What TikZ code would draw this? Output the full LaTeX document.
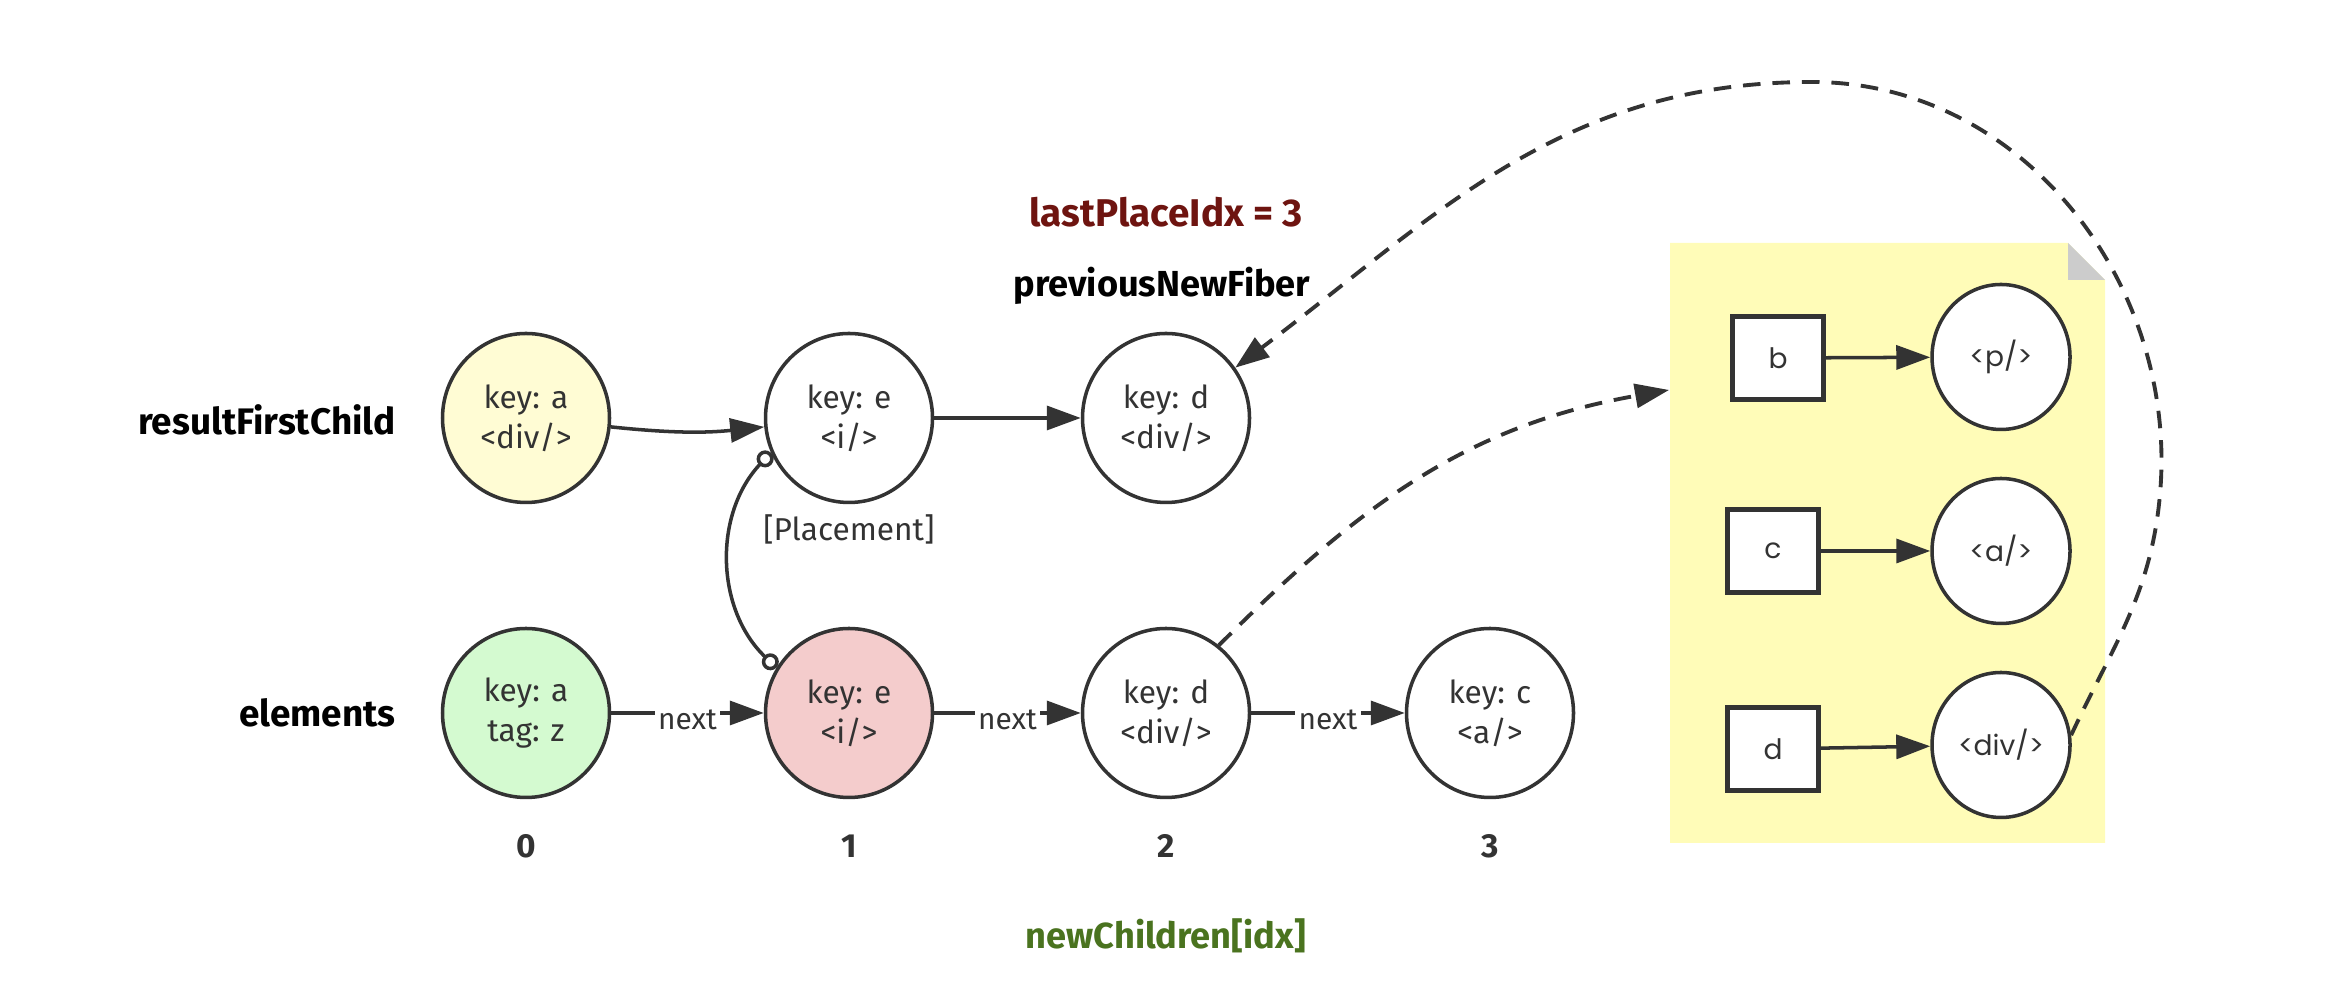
\documentclass[tikz,border=0pt]{standalone}
\usepackage{fontspec}
\setmainfont{Fira Sans}
\newfontfamily\notefont{Poppins}
\usetikzlibrary{arrows.meta,shapes.geometric}
\definecolor{ink}{HTML}{333333}
\definecolor{fibyellow}{HTML}{FFFCD4}
\definecolor{fibgreen}{HTML}{D4FAD0}
\definecolor{fibpink}{HTML}{F4CCCC}
\definecolor{notebg}{HTML}{FFFCB8}
\definecolor{foldgray}{HTML}{CCCCCC}
\definecolor{idxred}{HTML}{6E1410}
\definecolor{idxgreen}{HTML}{4A731F}
\begin{document}
\begin{tikzpicture}[>={Triangle[length=3.4mm,width=2.4mm]},
  fib/.style={ellipse,draw=ink,line width=1pt,fill=white,minimum width=1.67cm,minimum height=1.69cm,
    inner sep=0pt,align=center,text=ink,font=\fontsize{9}{11.4}\selectfont},
  keybox/.style={rectangle,draw=ink,line width=1.2pt,fill=white,minimum width=0.91cm,minimum height=0.83cm,
    text=ink,font=\notefont\fontsize{8}{10}\selectfont},
  tagnode/.style={ellipse,draw=ink,line width=1pt,fill=white,minimum width=1.38cm,minimum height=1.45cm,
    inner sep=0pt,text=ink,font=\notefont\fontsize{8}{9}\selectfont},
  rowlabel/.style={anchor=east,font=\fontsize{10.5}{12}\selectfont\bfseries},
  toplabel/.style={font=\fontsize{10.3}{12}\selectfont\bfseries},
  idxlabel/.style={text=ink,font=\fontsize{9.5}{11}\selectfont\bfseries},
  link/.style={draw=ink,line width=1pt,->},
  hop/.style={draw=ink,line width=1.1pt,dash pattern=on 5pt off 3.4pt,->},
  nextlabel/.style={fill=white,inner sep=1pt,yshift=-2pt,text=ink,font=\fontsize{8.5}{10}\selectfont}]
\useasboundingbox (0,0) rectangle (23.36,9.94);

\fill[notebg] (16.70,1.51) -- (16.70,7.51) -- (20.68,7.51) -- (21.05,7.14) -- (21.05,1.51) -- cycle;
\fill[foldgray] (20.68,7.51) -- (20.68,7.14) -- (21.05,7.14) -- cycle;

\node[rowlabel] (rfc) at (4.08,5.74) {resultFirstChild};
\node[rowlabel] (elems) at (4.08,2.81) {elements};

\node[fib,fill=fibyellow] (atop) at (5.26,5.76) {key: a\\<div/>};
\node[fib] (etop) at (8.49,5.76) {key: e\\<i/>};
\node[fib] (dtop) at (11.66,5.76) {key: d\\<div/>};

\node[fib,fill=fibgreen] (abot) at (5.26,2.81) {key: a\\tag: z};
\node[fib,fill=fibpink] (ebot) at (8.49,2.81) {key: e\\<i/>};
\node[fib] (dbot) at (11.66,2.81) {key: d\\<div/>};
\node[fib] (cbot) at (14.90,2.81) {key: c\\<a/>};

\node[idxlabel] (i0) at (5.26,1.48) {0};
\node[idxlabel] (i1) at (8.49,1.48) {1};
\node[idxlabel] (i2) at (11.66,1.48) {2};
\node[idxlabel] (i3) at (14.90,1.48) {3};

\node[toplabel,text=idxred,font=\fontsize{11}{12}\selectfont\bfseries] (lpi) at (11.66,7.82) {lastPlaceIdx = 3};
\node[toplabel] (pnf) at (11.62,7.08) {previousNewFiber};
\node[toplabel,text=idxgreen] (nci) at (11.66,0.58) {newChildren[idx]};
\node[text=ink,font=\fontsize{9}{11}\selectfont] (plc) at (8.49,4.65) {[Placement]};

\draw[link] (atop) to[bend right=6] (etop);
\draw[link] (etop) -- (dtop);
\draw[link] (abot) -- node[nextlabel] {next} (ebot);
\draw[link] (ebot) -- node[nextlabel] {next} (dbot);
\draw[link] (dbot) -- node[nextlabel] {next} (cbot);
\draw[draw=ink,line width=1pt,{Circle[open,length=1.7mm]}-{Circle[open,length=1.7mm]}]
  (etop.204) to[bend right=45] (ebot.148);

\node[keybox] (kb) at (17.78,6.36) {b};
\node[keybox] (kc) at (17.73,4.43) {c};
\node[keybox] (kd) at (17.73,2.45) {d};
\node[tagnode] (tp) at (20.01,6.37) {<p/>};
\node[tagnode] (ta) at (20.01,4.43) {<a/>};
\node[tagnode] (tdiv) at (20.01,2.49) {<div/>};
\draw[link] (kb) -- (tp);
\draw[link] (kc) -- (ta);
\draw[link] (kd) -- (tdiv);

\coordinate (noteW) at (16.69,6.04);
\coordinate (loopR) at (21.60,5.00);
\coordinate (loopT) at (18.12,9.12);
\draw[hop] (dbot.52) to[out=45,in=190] (noteW);
\draw[hop] (tdiv.8) to[out=65,in=-95] (loopR) to[out=85,in=0] (loopT) to[out=180,in=37] (dtop.36);
\end{tikzpicture}
\end{document}
